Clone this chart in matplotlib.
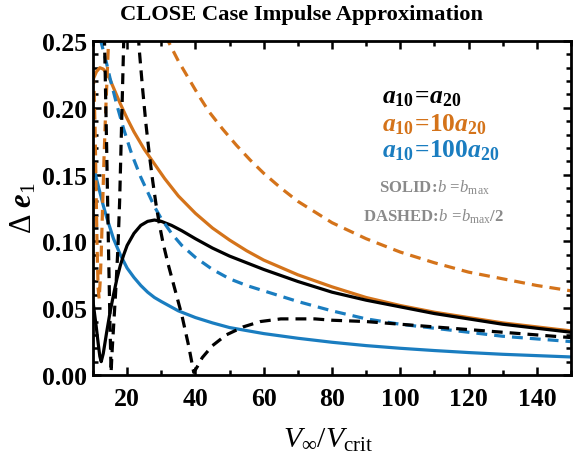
import matplotlib
matplotlib.use("Agg")
import matplotlib.pyplot as plt
from matplotlib.ticker import MultipleLocator, FixedLocator, FormatStrFormatter

plt.rcParams["font.family"] = ["Liberation Serif", "DejaVu Serif"]
plt.rcParams["mathtext.fontset"] = "custom"
plt.rcParams["mathtext.rm"] = "Liberation Serif"
plt.rcParams["mathtext.it"] = "Liberation Serif:italic"
plt.rcParams["mathtext.bf"] = "Liberation Serif:bold"
plt.rcParams["mathtext.bfit"] = "Liberation Serif:bold:italic"

# --- DATA: Delta e1 vs V_inf / V_crit ---
# a10 = a20
eq_solid_x = [10, 10.5, 11, 11.5, 12, 12.4, 13, 14, 15, 16, 17, 18, 19, 20, 22, 24, 26, 28, 30,
              33, 36, 40, 45, 50, 55, 60, 70, 80, 90, 100, 110, 120, 130, 140, 150]
eq_solid_y = [0.055, 0.045, 0.035, 0.024, 0.014, 0.010, 0.016, 0.032, 0.047, 0.060, 0.072, 0.082,
              0.090, 0.097, 0.106, 0.112, 0.115, 0.116, 0.115, 0.112, 0.108, 0.102, 0.095, 0.089,
              0.084, 0.079, 0.070, 0.062, 0.056, 0.051, 0.046, 0.042, 0.038, 0.035, 0.032]
eq_dash_x = [12.3, 13.0, 13.5, 14.0, 14.5, 15.0, 15.3, 15.6, 16.0, 16.7, 17.3, 17.8, 18.2, 18.6,
             19.0, 19.4, 20.5, 22.0, 23.0, 23.5, 24.5, 25.5, 26.5, 27.5, 28.5, 29.5, 30.5, 32,
             34, 36, 38, 39.5, 40.5, 42, 45, 49, 54, 59, 65, 70, 75, 80, 90, 100, 110, 120,
             130, 140, 150]
eq_dash_y = [0.320, 0.290, 0.235, 0.170, 0.100, 0.035, 0.002, 0.018, 0.035, 0.065, 0.095, 0.130,
             0.170, 0.210, 0.250, 0.290, 0.330, 0.320, 0.265, 0.245, 0.215, 0.188, 0.165, 0.145,
             0.127, 0.112, 0.099, 0.083, 0.064, 0.045, 0.022, 0.002, 0.006, 0.013, 0.022, 0.030,
             0.036, 0.040, 0.042, 0.042, 0.042, 0.041, 0.040, 0.038, 0.036, 0.034, 0.032,
             0.030, 0.028]

# a10 = 10 a20
ten_solid_x = [10, 11, 12, 13, 14, 15, 16, 18, 20, 22, 25, 28, 31, 35, 40, 45, 50, 55, 60,
               70, 80, 90, 100, 110, 120, 130, 140, 150]
ten_solid_y = [0.221, 0.227, 0.230, 0.229, 0.226, 0.221, 0.215, 0.203, 0.192, 0.182, 0.169,
               0.158, 0.147, 0.134, 0.121, 0.110, 0.101, 0.093, 0.086, 0.075, 0.066, 0.058,
               0.052, 0.047, 0.043, 0.039, 0.036, 0.033]
ten_dash_x = [10.0, 10.3, 10.6, 10.9, 11.2, 11.5, 11.8, 12.1, 12.4, 12.8, 13.2, 13.6, 14.0,
              14.4, 14.8, 15.5, 30, 32, 35, 38, 41, 44, 48, 52, 56, 60, 65, 70, 75, 80, 90,
              100, 110, 120, 130, 140, 150]
ten_dash_y = [0.226, 0.215, 0.185, 0.140, 0.095, 0.065, 0.057, 0.070, 0.090, 0.125, 0.160,
              0.190, 0.215, 0.240, 0.265, 0.300, 0.300, 0.250, 0.235, 0.222, 0.209, 0.197,
              0.184, 0.172, 0.161, 0.151, 0.140, 0.130, 0.122, 0.114, 0.102, 0.092, 0.084,
              0.077, 0.072, 0.067, 0.063]

# a10 = 100 a20
hun_solid_x = [10, 11, 12, 13, 14, 15, 16, 17, 18, 20, 22, 24, 26, 28, 30, 35, 40, 45, 50,
               60, 70, 80, 90, 100, 110, 120, 130, 140, 150]
hun_solid_y = [0.158, 0.147, 0.137, 0.127, 0.118, 0.110, 0.102, 0.096, 0.090, 0.080, 0.073,
               0.067, 0.062, 0.058, 0.055, 0.048, 0.043, 0.039, 0.0355, 0.031, 0.0275, 0.0245,
               0.022, 0.020, 0.0183, 0.0168, 0.0155, 0.0145, 0.0135]
hun_dash_x = [11.5, 12.3, 13, 14, 15, 16, 17, 18, 19, 20, 21, 22, 24, 26, 28, 30, 33, 36, 40,
              45, 50, 55, 60, 70, 80, 90, 100, 110, 120, 130, 140, 150]
hun_dash_y = [0.265, 0.250, 0.243, 0.233, 0.222, 0.212, 0.202, 0.193, 0.184, 0.176, 0.168,
              0.161, 0.148, 0.137, 0.126, 0.117, 0.106, 0.097, 0.088, 0.079, 0.072, 0.067,
              0.063, 0.055, 0.048, 0.042, 0.038, 0.035, 0.032, 0.029, 0.027, 0.025]

orange = "#D4731A"
blue = "#1A7DC0"
grey = "#8a8a8a"
lw = 2.3
dash = (3.4, 2.2)

fig = plt.figure(figsize=(5.73, 4.56), dpi=100)
W, H = 573.0, 456.0
ax = fig.add_axes([93 / W, (H - 376) / H, (571 - 93) / W, (376 - 42) / H])

ax.plot(hun_solid_x, hun_solid_y, color=blue, lw=lw)
ax.plot(ten_solid_x, ten_solid_y, color=orange, lw=lw)
ax.plot(eq_solid_x, eq_solid_y, color="black", lw=lw)
ax.plot(hun_dash_x, hun_dash_y, color=blue, lw=lw, dashes=dash)
ax.plot(ten_dash_x, ten_dash_y, color=orange, lw=lw, dashes=dash)
ax.plot(eq_dash_x, eq_dash_y, color="black", lw=lw, dashes=dash)

ax.set_xlim(10, 150)
ax.set_ylim(0, 0.25)

# frame + inward ticks on all sides
for s in ax.spines.values():
    s.set_linewidth(2.0)
ax.xaxis.set_major_locator(FixedLocator([20, 40, 60, 80, 100, 120, 140]))
ax.xaxis.set_minor_locator(MultipleLocator(10))
ax.yaxis.set_major_locator(MultipleLocator(0.05))
ax.yaxis.set_minor_locator(MultipleLocator(0.01))
ax.yaxis.set_major_formatter(FormatStrFormatter("%.2f"))
ax.tick_params(which="both", direction="in", top=True, right=True, width=1.8)
ax.tick_params(which="major", length=6, labelsize=18.5)
ax.tick_params(axis="x", which="major", pad=9)
ax.tick_params(axis="y", which="major", pad=4)
ax.tick_params(which="minor", length=3.5)
for lab in ax.get_xticklabels() + ax.get_yticklabels():
    lab.set_fontweight("bold")

fig.text(302 / W, 1 - 15 / H, "CLOSE Case Impulse Approximation", ha="center", va="center",
         fontsize=16.2, fontweight="bold")
fig.text(24 / W, 1 - 208 / H, r"$\Delta\ \mathbfit{e}_{1}$", ha="center", va="center",
         rotation=90, fontsize=22)
fig.text(328 / W, 1 - 440 / H, r"$V_{\infty}/V_{\mathrm{crit}}$", ha="center", va="center",
         fontsize=21.5)

# curve key (\! cancels the relation spacing around "=")
fig.text(382 / W, 1 - 98 / H, r"$\mathbfit{a}_{\mathbf{10}}\!\mathbf{=}\!\mathbfit{a}_{\mathbf{20}}$",
         ha="left", va="center", fontsize=18.4, color="black")
fig.text(382 / W, 1 - 125 / H, r"$\mathbfit{a}_{\mathbf{10}}\!\mathbf{=}\!\mathbf{10}\mathbfit{a}_{\mathbf{20}}$",
         ha="left", va="center", fontsize=18.4, color=orange)
fig.text(382 / W, 1 - 151 / H, r"$\mathbfit{a}_{\mathbf{10}}\!\mathbf{=}\!\mathbf{100}\mathbfit{a}_{\mathbf{20}}$",
         ha="left", va="center", fontsize=18.4, color=blue)
fig.text(434 / W, 1 - 188 / H, r"$\mathbf{SOLID}\!\mathbf{:}\!\mathit{b}\,\mathbf{=}\!\mathit{b}_{\mathrm{max}}$",
         ha="center", va="center", fontsize=12, color=grey)
fig.text(434 / W, 1 - 217 / H, r"$\mathbf{DASHED}\!\mathbf{:}\!\mathit{b}\,\mathbf{=}\!\mathit{b}_{\mathrm{max}}\mathbf{/2}$",
         ha="center", va="center", fontsize=12, color=grey)

plt.savefig("out.png", dpi=100)
